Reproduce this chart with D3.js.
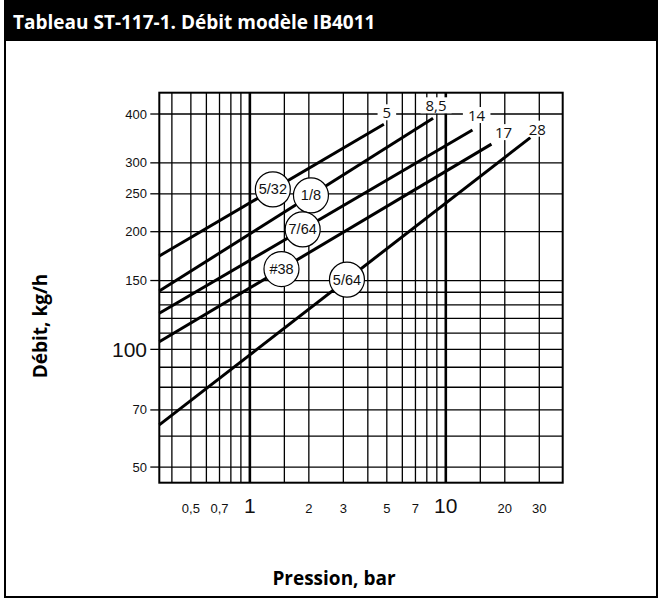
<!DOCTYPE html>
<html>
<head>
<meta charset="utf-8">
<script src="https://cdn.jsdelivr.net/npm/d3@7/dist/d3.min.js"></script>
<style>
  html, body { margin: 0; padding: 0; background: #fff; }
  svg { display: block; }
</style>
</head>
<body>
<svg id="chart" width="662" height="601"></svg>
<script>
// ---------------- DATA ----------------
const titleText = "Tableau ST-117-1. Débit modèle IB4011";
const xTitle = "Pression, bar";
const yTitle = "Débit, kg/h";

// orifice sizes (circle labels) and max pressure labels (line end labels)
const orifices = ["5/32", "1/8", "7/64", "#38", "5/64"];
const endLabels = ["5", "8,5", "14", "17", "28"];
// each line: start pressure / flow and end pressure / flow
const startPressure = [0.345, 0.345, 0.345, 0.345, 0.345];
const startFlow = [173.4, 141.0, 123.7, 104.6, 64.1];
const endPressure = [4.83, 8.61, 13.68, 17.1, 27.0];
const endFlow = [376.5, 390, 364, 335, 348];
// pressure at which each orifice circle sits on its line
const circlePressure = [1.31, 2.05, 1.86, 1.45, 3.13];

// axis ticks
const xDomain = [0.345, 39.5];
const yDomain = [45.6, 453.5];
const xGrid = [0.4, 0.5, 0.6, 0.7, 0.8, 0.9, 1, 1.5, 2, 3, 4, 5, 6, 7, 8, 9, 10, 15, 20, 30];
const xBoldGrid = [1, 10];
const xTickValues = [0.5, 0.7, 1, 2, 3, 5, 7, 10, 20, 30];
const xTickLabels = ["0,5", "0,7", "1", "2", "3", "5", "7", "10", "20", "30"];
const xBigTicks = [1, 10];
const yGrid = [50, 60, 70, 80, 90, 100, 110, 120, 130, 140, 150, 200, 250, 300, 400];
const yTickValues = [400, 300, 250, 200, 150, 100, 70, 50];
const yTickLabels = ["400", "300", "250", "200", "150", "100", "70", "50"];
const yBigTicks = [100];

// ---------------- LAYOUT ----------------
const plot = { left: 159.3, right: 562.7, top: 92.7, bottom: 482.7 };
const labelOffsets = [[3, -12], [3, -13], [4, -15], [12, -12], [7, -9]];

const svg = d3.select("#chart");
const x = d3.scaleLog().domain(xDomain).range([plot.left, plot.right]);
const y = d3.scaleLog().domain(yDomain).range([plot.bottom, plot.top]);

const numFont = "'Liberation Sans', Arial, sans-serif";
const boldFont = "'Open Sans', Lato, sans-serif";

// frame
svg.append("rect").attr("x", 0).attr("y", 0).attr("width", 662).attr("height", 601).attr("fill", "#fff");
svg.append("rect").attr("x", 5).attr("y", 1).attr("width", 652).attr("height", 596)
  .attr("fill", "none").attr("stroke", "#000").attr("stroke-width", 2);
// title bar
svg.append("rect").attr("x", 4).attr("y", 0).attr("width", 654).attr("height", 41).attr("fill", "#000");

svg.append("text").attr("x", 13).attr("y", 29)
  .attr("fill", "#fff").attr("font-family", boldFont).attr("font-weight", 700)
  .attr("font-size", 19).text(titleText);

// grid
const g = svg.append("g");
g.selectAll("line.hg").data(yGrid).join("line")
  .attr("x1", plot.left).attr("x2", plot.right)
  .attr("y1", d => y(d)).attr("y2", d => y(d))
  .attr("stroke", "#000").attr("stroke-width", 1.3);
g.selectAll("line.vg").data(xGrid).join("line")
  .attr("y1", plot.top).attr("y2", plot.bottom)
  .attr("x1", d => x(d)).attr("x2", d => x(d))
  .attr("stroke", "#000").attr("stroke-width", d => xBoldGrid.includes(d) ? 2.6 : 1.3);
// y ticks outside
g.selectAll("line.yt").data(yTickValues).join("line")
  .attr("x1", plot.left - 9).attr("x2", plot.left)
  .attr("y1", d => y(d)).attr("y2", d => y(d))
  .attr("stroke", "#000").attr("stroke-width", 1.3);
// border
g.append("rect").attr("x", plot.left).attr("y", plot.top)
  .attr("width", plot.right - plot.left).attr("height", plot.bottom - plot.top)
  .attr("fill", "none").attr("stroke", "#000").attr("stroke-width", 2);

// tick labels
svg.selectAll("text.xt").data(xTickValues).join("text")
  .attr("x", d => x(d)).attr("y", 513)
  .attr("text-anchor", "middle").attr("font-family", numFont)
  .attr("font-size", d => xBigTicks.includes(d) ? 21 : 13)
  .attr("fill", "#111")
  .text((d, i) => xTickLabels[i]);
svg.selectAll("text.yt").data(yTickValues).join("text")
  .attr("x", 147).attr("y", d => y(d))
  .attr("text-anchor", "end").attr("dominant-baseline", "central")
  .attr("font-family", numFont)
  .attr("font-size", d => yBigTicks.includes(d) ? 21 : 13)
  .attr("fill", "#111")
  .text((d, i) => yTickLabels[i]);

// axis titles
svg.append("text").attr("x", 334).attr("y", 585).attr("text-anchor", "middle")
  .attr("font-family", boldFont).attr("font-weight", 700).attr("font-size", 19).text(xTitle);
svg.append("text").attr("transform", "translate(47,326) rotate(-90)").attr("text-anchor", "middle")
  .attr("font-family", boldFont).attr("font-weight", 700).attr("font-size", 19).text(yTitle);

// series
const series = orifices.map((name, i) => ({
  name, label: endLabels[i],
  p0: startPressure[i], f0: startFlow[i], p1: endPressure[i], f1: endFlow[i], pc: circlePressure[i]
}));
function flowAt(s, p) {
  const t = Math.log(p / s.p0) / Math.log(s.p1 / s.p0);
  return Math.exp(Math.log(s.f0) + t * Math.log(s.f1 / s.f0));
}
const lg = svg.append("g");
lg.selectAll("line.s").data(series).join("line")
  .attr("x1", d => x(d.p0)).attr("y1", d => y(d.f0))
  .attr("x2", d => x(d.p1)).attr("y2", d => y(d.f1))
  .attr("stroke", "#000").attr("stroke-width", 3);

// end labels with white background
const el = svg.append("g");
series.forEach((s, i) => {
  const lx = x(s.p1) + labelOffsets[i][0], ly = y(s.f1) + labelOffsets[i][1];
  const t = el.append("text").attr("x", lx).attr("y", ly)
    .attr("text-anchor", "middle").attr("dominant-baseline", "central")
    .attr("font-family", "'Open Sans', sans-serif").attr("font-size", 15).attr("fill", "#111")
    .text(s.label);
  const bb = t.node().getBBox();
  el.insert("rect", "text").attr("x", bb.x - 5).attr("y", ly - 8).attr("width", bb.width + 10).attr("height", 16)
    .attr("fill", "#fff");
});

// circles
const cg = svg.append("g");
const cs = cg.selectAll("g").data(series).join("g")
  .attr("transform", d => `translate(${x(d.pc)},${y(flowAt(d, d.pc))})`);
cs.append("circle").attr("r", 17.5).attr("fill", "#fff").attr("stroke", "#000").attr("stroke-width", 1.2);
cs.append("text").attr("text-anchor", "middle").attr("dominant-baseline", "central")
  .attr("font-family", numFont).attr("font-size", 14.5).attr("fill", "#111")
  .text(d => d.name);
</script>
</body>
</html>
